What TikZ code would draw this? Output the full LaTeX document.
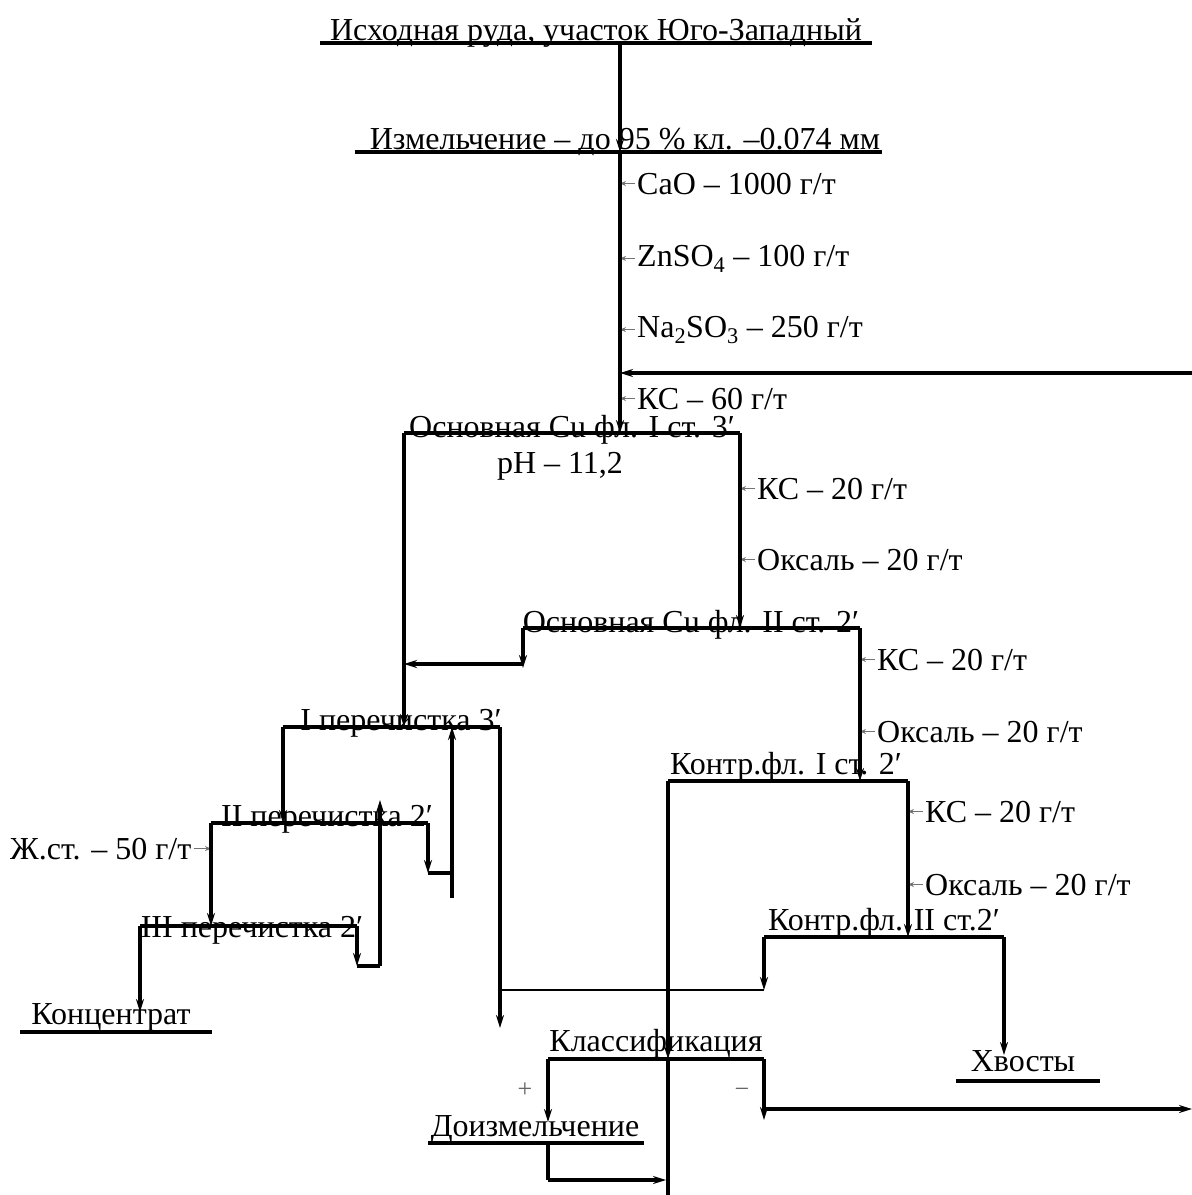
\documentclass[tikz,border=0pt]{standalone}
\usepackage{fontspec}
\setmainfont{Liberation Serif}
\usetikzlibrary{arrows.meta}
\begin{document}
\begin{tikzpicture}[x=1pt,y=-1pt,
  lbl/.style={font=\fontsize{32}{38}\selectfont, inner sep=0pt, anchor=base},
  rlbl/.style={font=\fontsize{32}{38}\selectfont, inner sep=0pt, anchor=base west},
  sgn/.style={font=\fontsize{26}{30}\selectfont, inner sep=0pt, anchor=base, text=black!60},
  flow/.style={line width=3.2pt},
  thinflow/.style={line width=1.6pt},
  arr/.style={flow,-{Stealth[length=13pt,width=8pt]}},
  rg/.style={line width=0.9pt, black!55, -{Stealth[length=6pt,width=5pt]}},
]
\useasboundingbox (0,0) rectangle (1192,1195);

% ---------- trunk coordinates ----------
\coordinate (trunk) at (620,0);
\coordinate (r1R) at (740,433);
\coordinate (r2R) at (860,628);
\coordinate (s1R) at (908,781);
\coordinate (c2L) at (211,823);

% ---------- source and grinding ----------
\node[lbl] (src) at (596,40) {Исходная руда, участок Юго-Западный};
\draw[flow] (320,43) coordinate (srcL) -- (872,43) coordinate (srcR);
\coordinate (srcOut) at (620,43);
\node[lbl] (grind) at (625,149) {Измельчение – до 95 \% кл. –0.074 мм};
\draw[flow] (355,152) coordinate (grL) -- (882,152) coordinate (grR);
\coordinate (grMid) at (620,152);
\draw[arr] (srcOut) -- (grMid);

% ---------- reagents to rougher I ----------
\node[rlbl] (cao) at (637,194) {CaO – 1000 г/т};
\node[rlbl] (zn) at (637,266) {ZnSO\textsubscript{4} – 100 г/т};
\node[rlbl] (na) at (637,337) {Na\textsubscript{2}SO\textsubscript{3} – 250 г/т};
\node[rlbl] (ks60) at (637,409) {КС – 60 г/т};
\foreach \n in {cao,zn,na,ks60}{\draw[rg] ([xshift=-2pt]\n.west) -- (\n.west -| trunk);}

% ---------- rougher I ----------
\node[lbl] (r1) at (572,437) {Основная Cu фл. I ст. 3′};
\draw[flow] (404,433) coordinate (r1L) -- (r1R);
\coordinate (r1In) at (620,433);
\draw[arr] (grMid) -- (r1In);
\coordinate (recR) at (1192,373);
\coordinate (recJ) at (620,373);
\draw[arr] (recR) -- (recJ);
\node[lbl] (ph) at (560,473) {pH – 11,2};

\node[rlbl] (ks20a) at (757,499) {КС – 20 г/т};
\node[rlbl] (ox20a) at (757,570) {Оксаль – 20 г/т};
\foreach \n in {ks20a,ox20a}{\draw[rg] ([xshift=-2pt]\n.west) -- (\n.west -| r1R);}

% ---------- rougher II ----------
\node[lbl] (r2) at (691,632) {Основная Cu фл. II ст. 2′};
\draw[flow] (523,628) coordinate (r2L) -- (r2R);
\coordinate (r2In) at (740,628);
\draw[arr] (r1R) -- (r2In);
\coordinate (r2Down) at (523,664);
\coordinate (r2Join) at (404,664);
\draw[arr] (r2L) -- (523,668);
\draw[arr] (r2Down) -- (r2Join);

\node[rlbl] (ks20b) at (877,670) {КС – 20 г/т};
\node[rlbl] (ox20b) at (877,742) {Оксаль – 20 г/т};
\foreach \n in {ks20b,ox20b}{\draw[rg] ([xshift=-2pt]\n.west) -- (\n.west -| r2R);}

% ---------- scavenger I ----------
\node[lbl] (s1) at (786,774) {Контр.фл. I ст. 2′};
\draw[flow] (668,781) coordinate (s1L) -- (s1R);
\coordinate (s1In) at (860,781);
\draw[arr] (r2R) -- (s1In);

\node[rlbl] (ks20c) at (925,822) {КС – 20 г/т};
\node[rlbl] (ox20c) at (925,895) {Оксаль – 20 г/т};
\foreach \n in {ks20c,ox20c}{\draw[rg] ([xshift=-2pt]\n.west) -- (\n.west -| s1R);}

% ---------- scavenger II ----------
\node[lbl] (s2) at (884,930) {Контр.фл. II ст.2′};
\draw[flow] (764,937) coordinate (s2L) -- (1004,937) coordinate (s2R);
\coordinate (s2In) at (908,937);
\draw[arr] (s1R) -- (s2In);
\coordinate (s2J) at (764,990);
\draw[arr] (s2L) -- (s2J);

% ---------- tailings ----------
\node[lbl] (tail) at (1023,1071) {Хвосты};
\draw[flow] (956,1081) coordinate (tailL) -- (1100,1081) coordinate (tailR);
\draw[arr] (s2R) -- (1004,1055);

% ---------- cleaners ----------
\node[lbl] (c1) at (401,730) {I перечистка 3′};
\draw[flow] (283,727) coordinate (c1L) -- (500,727) coordinate (c1R);
\coordinate (c1In) at (404,727);
\draw[arr] (r1L) -- (c1In);

\node[lbl] (c2) at (327,826) {II перечистка 2′};
\draw[flow] (c2L) -- (428,823) coordinate (c2R);
\coordinate (c1Down) at (283,823);
\draw[arr] (c1L) -- (c1Down);
\coordinate (c2T) at (428,873);
\coordinate (c2TR) at (452,873);
\draw[arr] (c2R) -- (c2T);
\draw[flow] (c2T) -- (c2TR);
\draw[arr] (452,898) -- (452,727);

\node[rlbl] (zh) at (10,859) {Ж.ст. – 50 г/т};
\draw[rg] ([xshift=2pt]zh.east) -- (zh.east -| c2L);

\node[lbl] (c3) at (252,937) {III перечистка 2′};
\draw[flow] (140,926) coordinate (c3L) -- (357,926) coordinate (c3R);
\coordinate (c2Down) at (211,926);
\draw[arr] (c2L) -- (c2Down);
\coordinate (c3T) at (357,966);
\coordinate (c3TR) at (380,966);
\draw[arr] (c3R) -- (c3T);
\draw[flow] (c3T) -- (c3TR);
\draw[arr] (c3TR) -- (380,800);

\node[lbl] (conc) at (111,1024) {Концентрат};
\draw[flow] (20,1032) coordinate (concL) -- (212,1032) coordinate (concR);
\draw[arr] (c3L) -- (140,1012);

% ---------- middlings collection ----------
\draw[arr] (c1R) -- (500,1028);
\draw[thinflow] (500,990) -- (s2J);

% ---------- classification ----------
\node[lbl] (cls) at (656,1051) {Классификация};
\draw[flow] (548,1059) coordinate (clsL) -- (764,1059) coordinate (clsR);
\coordinate (clsIn) at (668,1059);
\draw[arr] (s1L) -- (clsIn);
\draw[flow] (clsIn) -- (668,1195);

\node[sgn] (plus) at (525,1097) {+};
\node[sgn] (minus) at (742,1097) {−};

\node[lbl] (regr) at (535,1136) {Доизмельчение};
\draw[flow] (428,1143) coordinate (regrL) -- (644,1143) coordinate (regrR);
\draw[arr] (clsL) -- (548,1122);
\coordinate (regrOut) at (548,1143);
\coordinate (regrC) at (548,1180);
\draw[flow] (regrOut) -- (regrC);
\draw[arr] (regrC) -- (666,1180);

\draw[arr] (clsR) -- (764,1120);
\draw[arr] (764,1109) -- (1192,1109);
\end{tikzpicture}
\end{document}
